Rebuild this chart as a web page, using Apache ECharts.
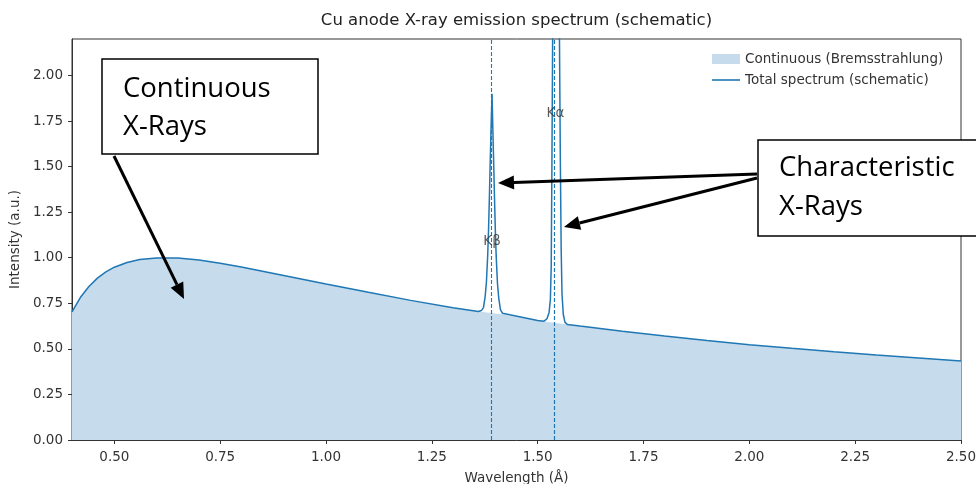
<!DOCTYPE html>
<html>
<head>
<meta charset="utf-8">
<script src="https://cdn.jsdelivr.net/npm/echarts@6/dist/echarts.min.js"></script>
<style>
  html, body { margin: 0; padding: 0; background: #fff; }
  #chart { width: 976px; height: 484px; }
</style>
</head>
<body>
<div id="chart"></div>
<script>
// continuum (Bremsstrahlung)
const lambdaCont = [0.40, 0.42, 0.44, 0.46, 0.48, 0.50, 0.53, 0.56, 0.60, 0.65, 0.70, 0.75, 0.80, 0.90, 1.00,
  1.10, 1.20, 1.30, 1.36, 1.42, 1.50, 1.52, 1.57, 1.60, 1.70, 1.80, 1.90, 2.00, 2.10, 2.20, 2.30, 2.40, 2.50]
const intensityCont = [0.703, 0.783, 0.842, 0.888, 0.922, 0.948, 0.974, 0.990, 0.999, 0.999, 0.988, 0.970, 0.949, 0.903, 0.856,
  0.810, 0.766, 0.726, 0.705, 0.688, 0.656, 0.649, 0.634, 0.625, 0.596, 0.570, 0.546, 0.523, 0.503, 0.484, 0.466, 0.450, 0.434]

// total spectrum = continuum + K lines
const lambdaTotal = [0.40, 0.42, 0.44, 0.46, 0.48, 0.50, 0.53, 0.56, 0.60, 0.65, 0.70, 0.75, 0.80, 0.90, 1.00,
  1.10, 1.20, 1.30, 1.36,
  1.367, 1.372, 1.376, 1.379, 1.382, 1.384, 1.386, 1.388, 1.390, 1.3922, 1.394, 1.396, 1.398, 1.400, 1.402,
  1.405, 1.408, 1.412, 1.417, 1.42,
  1.50, 1.515, 1.522, 1.527, 1.530, 1.532, 1.5335, 1.535, 1.537, 1.539, 1.5406, 1.5425, 1.5444, 1.5465,
  1.549, 1.5515, 1.5535, 1.5555, 1.5575, 1.5605, 1.5645, 1.57,
  1.60, 1.70, 1.80, 1.90, 2.00, 2.10, 2.20, 2.30, 2.40, 2.50]
const intensityTotal = [0.703, 0.783, 0.842, 0.888, 0.922, 0.948, 0.974, 0.990, 0.999, 0.999, 0.988, 0.970, 0.949, 0.903, 0.856,
  0.810, 0.766, 0.726, 0.705,
  0.710, 0.726, 0.788, 0.868, 1.015, 1.155, 1.335, 1.535, 1.715, 1.900, 1.715, 1.530, 1.330, 1.150, 1.010,
  0.860, 0.780, 0.715, 0.695, 0.688,
  0.656, 0.652, 0.665, 0.700, 0.770, 0.950, 1.450, 2.050, 2.800, 3.300, 3.600, 3.300, 3.400, 2.950,
  2.550, 2.200, 1.550, 1.050, 0.800, 0.690, 0.645, 0.634,
  0.625, 0.596, 0.570, 0.546, 0.523, 0.503, 0.484, 0.466, 0.450, 0.434]

const lineNames = ['Kβ', 'Kα']
const lineLambda = [1.3922, 1.542]
const lineLabelLevel = [1.09, 1.79]
const dashLambda = [1.3922, 1.5406, 1.5444]

const xTicks = [0.50, 0.75, 1.00, 1.25, 1.50, 1.75, 2.00, 2.25, 2.50]
const yTicks = [0.00, 0.25, 0.50, 0.75, 1.00, 1.25, 1.50, 1.75, 2.00]

const C0 = '#1f77b4'
const FILL = '#c6dbec'
const FONT = 'DejaVu Sans'

function zip(a, b) {
  return a.map((v, i) => [v, b[i]])
}

// black annotation arrow (pixel coords, overlay like the callouts)
function arrow(x1, y1, x2, y2) {
  const ang = Math.atan2(y2 - y1, x2 - x1)
  const L = 16
  const W = 7
  const bx = x2 - L * Math.cos(ang)
  const by = y2 - L * Math.sin(ang)
  const px = -Math.sin(ang) * W
  const py = Math.cos(ang) * W
  return [
    { type: 'line', z: 100, shape: { x1: x1, y1: y1, x2: bx, y2: by }, style: { stroke: '#000', lineWidth: 3 } },
    { type: 'polygon', z: 100, shape: { points: [[x2, y2], [bx + px, by + py], [bx - px, by - py]] }, style: { fill: '#000' } }
  ]
}

function callout(x, y, w, h, lines, tx, ty, gap) {
  const els = [{ type: 'rect', z: 101, shape: { x: x, y: y, width: w, height: h },
    style: { fill: '#fff', stroke: '#000', lineWidth: 1.5 } }]
  lines.forEach((t, i) => {
    els.push({ type: 'text', z: 102, x: tx, y: ty + i * gap,
      style: { text: t, fill: '#000', font: '27.5px "Open Sans"', verticalAlign: 'middle' } })
  })
  return els
}

const chart = echarts.init(document.getElementById('chart'))

chart.setOption({
  animation: false,
  backgroundColor: '#fff',
  textStyle: { fontFamily: FONT },
  grid: { left: 72, right: 15, top: 39, bottom: 44, outerBoundsMode: 'none', containLabel: false,
    show: true, borderColor: '#333', borderWidth: 1 },
  legend: {
    orient: 'vertical',
    left: 707,
    top: 47,
    itemWidth: 28,
    itemHeight: 10,
    itemGap: 7,
    symbolKeepAspect: true,
    textStyle: { color: '#333', fontSize: 13.5, fontFamily: FONT },
    data: [
      { name: 'Continuous (Bremsstrahlung)', icon: 'rect', itemStyle: { color: FILL, borderWidth: 0 } },
      { name: 'Total spectrum (schematic)', icon: 'path://M0,0H28V1.6H0Z', itemStyle: { color: C0, borderWidth: 0 } }
    ]
  },
  xAxis: {
    type: 'value',
    min: 0.4,
    max: 2.5,
    name: 'Wavelength (Å)',
    nameLocation: 'middle',
    nameGap: 31,
    nameTextStyle: { color: '#333', fontSize: 13.5 },
    axisLine: { show: true, lineStyle: { color: '#333', width: 1 } },
    axisTick: { show: true, length: 4, customValues: xTicks, lineStyle: { color: '#333' } },
    axisLabel: { customValues: xTicks, margin: 10, color: '#333', fontSize: 13.5, formatter: v => v.toFixed(2) },
    splitLine: { show: false }
  },
  yAxis: {
    type: 'value',
    min: 0,
    max: 2.2,
    name: 'Intensity (a.u.)',
    nameLocation: 'middle',
    nameGap: 44,
    nameTextStyle: { color: '#333', fontSize: 13.5 },
    axisLine: { show: true, lineStyle: { color: '#333', width: 1 } },
    axisTick: { show: true, length: 4, customValues: yTicks, lineStyle: { color: '#333' } },
    axisLabel: { customValues: yTicks, margin: 9, color: '#333', fontSize: 13.5, formatter: v => v.toFixed(2) },
    splitLine: { show: false }
  },
  series: [
    {
      name: 'Continuous (Bremsstrahlung)',
      type: 'line',
      data: zip(lambdaCont, intensityCont),
      symbol: 'none',
      lineStyle: { width: 0 },
      itemStyle: { color: FILL },
      areaStyle: { color: FILL, opacity: 1 },
      z: 1
    },
    {
      name: 'Total spectrum (schematic)',
      type: 'line',
      data: zip(lambdaTotal, intensityTotal),
      symbol: 'none',
      clip: true,
      lineStyle: { color: C0, width: 1.5 },
      itemStyle: { color: C0 },
      z: 3,
      markLine: {
        silent: true,
        symbol: ['none', 'none'],
        label: { show: false },
        lineStyle: { color: C0, width: 1.1, opacity: 1, type: [4, 2] },
        data: dashLambda.map(x => ({ xAxis: x }))
      }
    },
    {
      name: 'lines',
      type: 'scatter',
      symbolSize: 0,
      data: lineLambda.map((x, i) => [x, lineLabelLevel[i], lineNames[i]]),
      label: {
        show: true,
        position: 'inside',
        color: '#333',
        fontSize: 13.5,
        formatter: p => p.data[2]
      },
      z: 5
    }
  ],
  graphic: [
    { type: 'text', x: 516.5, y: 21, style: { text: 'Cu anode X-ray emission spectrum (schematic)',
      fill: '#222', font: '16.5px "DejaVu Sans"', align: 'center', verticalAlign: 'middle' } },
    ...arrow(114, 156, 184, 299),
    ...arrow(757, 174, 498, 183),
    ...arrow(757, 178, 564, 227),
    ...callout(102, 59, 216, 95, ['Continuous', 'X-Rays'], 123, 89, 38),
    ...callout(758, 140, 240, 96, ['Characteristic', 'X-Rays'], 779, 168, 39)
  ]
})
</script>
</body>
</html>
